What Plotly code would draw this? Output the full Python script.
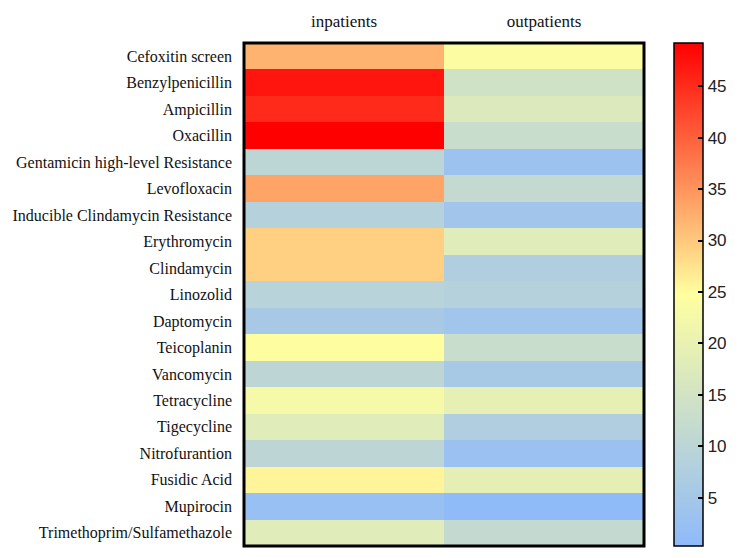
import plotly.graph_objects as go

antibiotics = [
    "Cefoxitin screen", "Benzylpenicillin", "Ampicillin", "Oxacillin",
    "Gentamicin high-level Resistance", "Levofloxacin",
    "Inducible Clindamycin Resistance", "Erythromycin", "Clindamycin",
    "Linozolid", "Daptomycin", "Teicoplanin", "Vancomycin", "Tetracycline",
    "Tigecycline", "Nitrofurantion", "Fusidic Acid", "Mupirocin",
    "Trimethoprim/Sulfamethazole",
]
groups = ["inpatients", "outpatients"]
inpatients = [32.0, 47.2, 45.2, 49.2, 10.1, 33.5, 8.4, 29.3, 29.3, 9.3,
              5.7, 24.5, 10.3, 22.8, 18.0, 10.3, 25.8, 2.3, 18.0]
outpatients = [24.0, 14.5, 16.9, 12.7, 3.1, 11.8, 4.5, 18.0, 7.5, 8.4,
               4.5, 12.7, 5.7, 19.3, 7.5, 2.7, 19.0, 0.5, 11.8]
cbar_ticks = [5, 10, 15, 20, 25, 30, 35, 40, 45]

z = [[a, b] for a, b in zip(inpatients, outpatients)]

colorscale = [
    [0.0, "rgb(143,186,250)"],
    [0.5, "rgb(255,255,160)"],
    [1.0, "rgb(255,0,0)"],
]

fig = go.Figure(go.Heatmap(
    z=z, x=groups, y=antibiotics,
    colorscale=colorscale, zmin=0.3, zmax=49.2,
    xgap=0, ygap=0,
    colorbar=dict(
        x=1.075, xanchor="left", y=0.5, yanchor="middle",
        len=1.0, lenmode="fraction", thickness=29,
        outlinecolor="black", outlinewidth=1.5,
        tickmode="array", tickvals=cbar_ticks,
        ticks="inside", ticklen=5, tickwidth=1.5, tickcolor="black",
        tickprefix="\u2007",
        tickfont=dict(family="Liberation Sans, Arial", size=17, color="#222"),
        xpad=0, ypad=0,
    ),
))

fig.update_layout(
    width=742, height=550,
    margin=dict(l=236, r=106, t=35, b=12),
    paper_bgcolor="white", plot_bgcolor="white",
    xaxis=dict(side="top", showgrid=False, zeroline=False, ticks="", automargin=False,
               tickfont=dict(family="Liberation Serif, Times New Roman", size=17, color="#111"),
               ticklabelstandoff=12),
    yaxis=dict(autorange="reversed", showgrid=False, zeroline=False, ticks="", automargin=False,
               tickfont=dict(family="Liberation Serif, Times New Roman", size=16, color="#111"),
               ticklabelstandoff=11),
    shapes=[dict(type="rect", xref="paper", yref="paper", x0=0, x1=1, y0=0, y1=1,
                 line=dict(color="black", width=3))],
)

fig.write_html("out.html")
